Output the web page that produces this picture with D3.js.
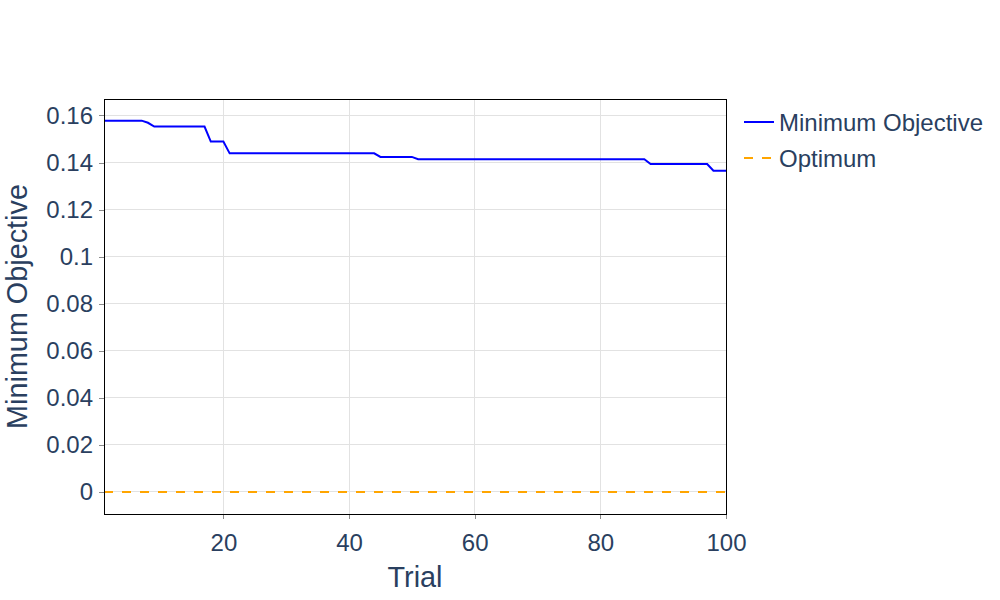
<!DOCTYPE html>
<html>
<head>
<meta charset="utf-8">
<script src="https://cdn.jsdelivr.net/npm/d3@7"></script>
<style>
  body { margin: 0; background: #fff; }
  text { font-family: "Liberation Sans", Arial, sans-serif; fill: #2a3f5f; }
</style>
</head>
<body>
<svg id="chart" width="1000" height="600"></svg>
<script>
"use strict";

// best objective so far, per trial (1..100)
var trials = d3.range(1, 101);
var min_objective = [
  0.1578, 0.1578, 0.1578, 0.1578, 0.1578, 0.1578, 0.1578, 0.1569, 0.1553, 0.1553,
  0.1553, 0.1553, 0.1553, 0.1553, 0.1553, 0.1553, 0.1553, 0.1489, 0.1489, 0.1489,
  0.1439, 0.1439, 0.1439, 0.1439, 0.1439, 0.1439, 0.1439, 0.1439, 0.1439, 0.1439,
  0.1439, 0.1439, 0.1439, 0.1439, 0.1439, 0.1439, 0.1439, 0.1439, 0.1439, 0.1439,
  0.1439, 0.1439, 0.1439, 0.1439, 0.1424, 0.1424, 0.1424, 0.1424, 0.1424, 0.1424,
  0.1414, 0.1414, 0.1414, 0.1414, 0.1414, 0.1414, 0.1414, 0.1414, 0.1414, 0.1414,
  0.1414, 0.1414, 0.1414, 0.1414, 0.1414, 0.1414, 0.1414, 0.1414, 0.1414, 0.1414,
  0.1414, 0.1414, 0.1414, 0.1414, 0.1414, 0.1414, 0.1414, 0.1414, 0.1414, 0.1414,
  0.1414, 0.1414, 0.1414, 0.1414, 0.1414, 0.1414, 0.1414, 0.1394, 0.1394, 0.1394,
  0.1394, 0.1394, 0.1394, 0.1394, 0.1394, 0.1394, 0.1394, 0.1365, 0.1365, 0.1365
];
var optimum = 0;
var x_ticks = [20, 40, 60, 80, 100];
var y_ticks = [0, 0.02, 0.04, 0.06, 0.08, 0.1, 0.12, 0.14, 0.16];
var series_names = ['Minimum Objective', 'Optimum'];

function draw_chart() {
  var svg = d3.select('#chart');
  var left = 104, right = 726, top = 99, bottom = 514;

  var xscale = d3.scaleLinear().domain([1, 100]).range([left, right]);
  var yscale = d3.scaleLinear().domain([-0.00935, 0.167]).range([bottom, top]);

  // grid
  svg.append('g').selectAll('line.gx')
    .data(x_ticks)
    .enter().append('line')
    .attr('x1', d => xscale(d)).attr('x2', d => xscale(d))
    .attr('y1', top).attr('y2', bottom)
    .attr('stroke', '#e2e2e2').attr('stroke-width', 1)
    .attr('shape-rendering', 'crispEdges');
  svg.append('g').selectAll('line.gy')
    .data(y_ticks)
    .enter().append('line')
    .attr('y1', d => yscale(d)).attr('y2', d => yscale(d))
    .attr('x1', left).attr('x2', right)
    .attr('stroke', '#e2e2e2').attr('stroke-width', 1)
    .attr('shape-rendering', 'crispEdges');

  // axes
  var xaxis = d3.axisBottom(xscale).tickValues(x_ticks).tickSize(5).tickPadding(10)
    .tickFormat(d3.format('d'));
  var gx = svg.append('g')
    .attr('transform', 'translate(0,' + bottom + ')')
    .call(xaxis);
  var yaxis = d3.axisLeft(yscale).tickValues(y_ticks).tickSize(5).tickPadding(6)
    .tickFormat(d => d === 0 ? '0' : d3.format('~g')(d));
  var gy = svg.append('g')
    .attr('transform', 'translate(' + left + ',0)')
    .call(yaxis);
  [gx, gy].forEach(function (g) {
    g.select('.domain').remove();
    g.selectAll('.tick line').attr('stroke', '#8a8a8a')
      .attr('shape-rendering', 'crispEdges');
    g.selectAll('.tick text')
      .style('font-size', '24px')
      .style('font-family', '"Liberation Sans", Arial, sans-serif')
      .attr('fill', '#2a3f5f');
  });
  gx.selectAll('.tick text').attr('dy', '0.9em');

  // series
  var line = d3.line()
    .x((d, i) => xscale(trials[i]))
    .y(d => yscale(d));
  svg.append('path')
    .datum(min_objective)
    .attr('d', line)
    .attr('fill', 'none')
    .attr('stroke', 'blue')
    .attr('stroke-width', 2);
  svg.append('path')
    .datum(trials.map(() => optimum))
    .attr('d', line)
    .attr('fill', 'none')
    .attr('stroke', 'orange')
    .attr('stroke-width', 2)
    .attr('stroke-dasharray', '9,9');

  // frame
  svg.append('rect')
    .attr('x', left).attr('y', top)
    .attr('width', right - left).attr('height', bottom - top)
    .attr('fill', 'none').attr('stroke', '#000').attr('stroke-width', 1)
    .attr('shape-rendering', 'crispEdges');

  // titles
  svg.append('text')
    .attr('x', (left + right) / 2).attr('y', 587)
    .attr('text-anchor', 'middle')
    .style('font-size', '28.8px')
    .text('Trial');
  svg.append('text')
    .attr('transform', 'translate(27,' + ((top + bottom) / 2) + ') rotate(-90)')
    .attr('text-anchor', 'middle')
    .style('font-size', '28.8px')
    .text('Minimum Objective');

  // legend
  var colors = ['blue', 'orange'];
  var legend = svg.append('g').selectAll('g')
    .data(series_names)
    .enter().append('g')
    .attr('transform', (d, i) => 'translate(744,' + (122 + i * 36) + ')');
  legend.append('line')
    .attr('x1', 0).attr('x2', 30)
    .attr('stroke', (d, i) => colors[i])
    .attr('stroke-width', 2)
    .attr('stroke-dasharray', (d, i) => i === 1 ? '9,9' : null);
  legend.append('text')
    .attr('x', 35).attr('y', 9)
    .style('font-size', '24px')
    .text(d => d);
}

draw_chart();
</script>
</body>
</html>
